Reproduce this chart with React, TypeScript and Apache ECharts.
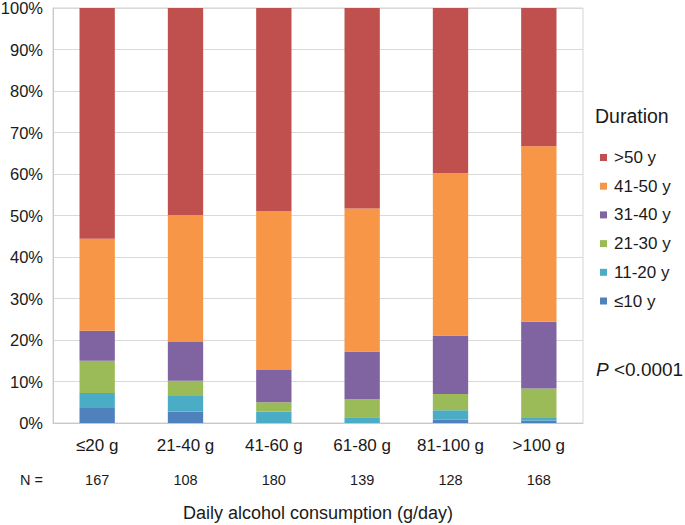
import React, { useEffect, useRef } from "react";
import * as echarts from "echarts";

const categories = ["≤20 g", "21-40 g", "41-60 g", "61-80 g", "81-100 g", ">100 g"];
const nCounts = ["167", "108", "180", "139", "128", "168"];
const seriesNames = ["≤10 y", "11-20 y", "21-30 y", "31-40 y", "41-50 y", ">50 y"];
const le10 = [3.6, 2.8, 0, 0, 0.8, 0.6];
const d11to20 = [3.6, 3.7, 2.8, 1.4, 2.3, 0.6];
const d21to30 = [7.8, 3.7, 2.2, 4.3, 3.9, 7.1];
const d31to40 = [7.2, 9.3, 7.8, 11.5, 14.1, 16.1];
const d41to50 = [22.2, 30.6, 38.3, 34.5, 39.1, 42.3];
const gt50 = [55.6, 49.9, 48.9, 48.3, 39.8, 33.3];
const yTicks = ["0%", "10%", "20%", "30%", "40%", "50%", "60%", "70%", "80%", "90%", "100%"];
const colors = ["#4F81BD", "#4BACC6", "#9BBB59", "#8064A2", "#F79646", "#C0504D"];

const FONT = "'Liberation Sans', Arial, sans-serif";
const INK = "#1a1a1a";

export default function App() {
  const ref = useRef<HTMLDivElement>(null);
  useEffect(() => {
    if (!ref.current) return;
    const chart = echarts.init(ref.current, null, { renderer: "svg" });
    const data = [le10, d11to20, d21to30, d31to40, d41to50, gt50];
    chart.setOption({
      animation: false,
      textStyle: { fontFamily: FONT },
      grid: {
        left: 53,
        right: 102,
        top: 8,
        bottom: 102,
        show: true,
        borderColor: "#d4d4d4",
        borderWidth: 1,
        containLabel: false,
        outerBoundsMode: "none",
      },
      xAxis: {
        type: "category",
        data: categories,
        axisTick: { show: false },
        axisLine: { lineStyle: { color: "#c8c8c8" } },
        name: "Daily alcohol consumption (g/day)",
        nameLocation: "middle",
        nameGap: 81,
        nameTextStyle: { fontSize: 18, color: INK, fontFamily: FONT },
        axisLabel: {
          margin: 12,
          formatter: (v: string, i: number) => `{c|${v}}\n{n|${nCounts[i]}}`,
          rich: {
            c: { fontSize: 17, color: INK, lineHeight: 20, fontFamily: FONT },
            n: { fontSize: 14.5, color: INK, lineHeight: 50, fontFamily: FONT },
          },
        },
      },
      yAxis: {
        type: "value",
        min: 0,
        max: 100,
        interval: 10,
        axisLine: { show: true, lineStyle: { color: "#c8c8c8" } },
        axisTick: { show: false },
        splitLine: { lineStyle: { color: "#d9d9d9" } },
        axisLabel: {
          margin: 10,
          fontSize: 16.5,
          color: INK,
          fontFamily: FONT,
          formatter: (v: number) => yTicks[Math.round(v / 10)],
        },
      },
      legend: {
        orient: "vertical",
        left: 595,
        top: 144,
        itemWidth: 7,
        itemHeight: 7,
        itemGap: 11.7,
        icon: "rect",
        data: [...seriesNames].reverse(),
        textStyle: { fontSize: 17, color: INK, fontFamily: FONT, padding: [0, 0, 0, 2] },
      },
      graphic: [
        {
          type: "text",
          left: 595,
          top: 106,
          style: { text: "Duration", fontSize: 19.5, fill: INK, fontFamily: FONT },
        },
        {
          type: "text",
          left: 596,
          top: 360,
          style: {
            text: "{i|P} <0.0001",
            fontSize: 19,
            fill: INK,
            fontFamily: FONT,
            rich: { i: { fontStyle: "italic", fontSize: 19, fontFamily: FONT, fill: INK } },
          },
        },
        {
          type: "text",
          left: 20,
          top: 472,
          style: { text: "N =", fontSize: 14.5, fill: INK, fontFamily: FONT },
        },
      ],
      series: seriesNames.map((name, i) => ({
        name,
        type: "bar",
        stack: "total",
        barWidth: "40%",
        data: data[i],
        itemStyle: { color: colors[i] },
      })),
    });
    return () => chart.dispose();
  }, []);
  return <div ref={ref} style={{ width: 685, height: 525, position: "absolute", left: 0, top: 0 }} />;
}
